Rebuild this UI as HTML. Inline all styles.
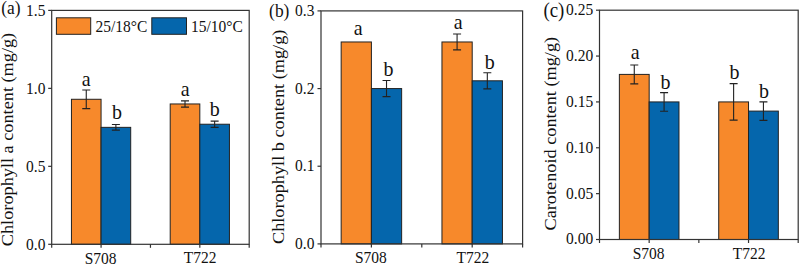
<!DOCTYPE html>
<html><head><meta charset="utf-8"><style>
html,body{margin:0;padding:0;background:#fff;}
body{width:800px;height:265px;overflow:hidden;}
svg{display:block;}
text{font-family:"Liberation Serif",serif;fill:#111;}
</style></head><body>
<svg width="800" height="265" viewBox="0 0 800 265">
<rect x="71.45" y="99.28" width="29.62" height="145.02" fill="#F7892B" stroke="#222" stroke-width="1"/>
<rect x="101.08" y="127.35" width="29.62" height="116.95" fill="#0566AC" stroke="#222" stroke-width="1"/>
<rect x="170.20" y="103.96" width="29.62" height="140.34" fill="#F7892B" stroke="#222" stroke-width="1"/>
<rect x="199.82" y="124.23" width="29.62" height="120.07" fill="#0566AC" stroke="#222" stroke-width="1"/>
<path d="M86.26 89.93V108.64M82.26 89.93H90.26M82.26 108.64H90.26" stroke="#222" stroke-width="1.1" fill="none"/>
<text transform="translate(86.26,86.13) scale(1,1.1)" font-size="20" text-anchor="middle">a</text>
<path d="M115.89 124.54V130.16M111.89 124.54H119.89M111.89 130.16H119.89" stroke="#222" stroke-width="1.1" fill="none"/>
<text transform="translate(117.09,119.14) scale(1,1.1)" font-size="20" text-anchor="middle">b</text>
<path d="M185.01 100.84V107.08M181.01 100.84H189.01M181.01 107.08H189.01" stroke="#222" stroke-width="1.1" fill="none"/>
<text transform="translate(185.21,96.04) scale(1,1.1)" font-size="20" text-anchor="middle">a</text>
<path d="M214.64 121.11V127.35M210.64 121.11H218.64M210.64 127.35H218.64" stroke="#222" stroke-width="1.1" fill="none"/>
<text transform="translate(214.84,116.31) scale(1,1.1)" font-size="20" text-anchor="middle">b</text>
<rect x="51.7" y="10.4" width="197.50" height="233.90" fill="none" stroke="#333" stroke-width="1.2"/>
<path d="M48.20 244.30H51.7" stroke="#333" stroke-width="1.2"/>
<text transform="translate(45.44,249.56) scale(1,1.1)" font-size="15.5" text-anchor="end">0.0</text>
<path d="M48.20 166.33H51.7" stroke="#333" stroke-width="1.2"/>
<text transform="translate(45.44,171.59) scale(1,1.1)" font-size="15.5" text-anchor="end">0.5</text>
<path d="M48.20 88.37H51.7" stroke="#333" stroke-width="1.2"/>
<text transform="translate(45.44,93.63) scale(1,1.1)" font-size="15.5" text-anchor="end">1.0</text>
<path d="M48.20 10.40H51.7" stroke="#333" stroke-width="1.2"/>
<text transform="translate(45.44,15.66) scale(1,1.1)" font-size="15.5" text-anchor="end">1.5</text>
<path d="M51.70 244.3V247.80" stroke="#333" stroke-width="1.2"/>
<path d="M101.08 244.3V247.80" stroke="#333" stroke-width="1.2"/>
<path d="M150.45 244.3V247.80" stroke="#333" stroke-width="1.2"/>
<path d="M199.82 244.3V247.80" stroke="#333" stroke-width="1.2"/>
<path d="M249.20 244.3V247.80" stroke="#333" stroke-width="1.2"/>
<text transform="translate(100.58,263.80) scale(1,1.1)" font-size="15.5" text-anchor="middle">S708</text>
<text transform="translate(200.22,263.30) scale(1,1.1)" font-size="15.5" text-anchor="middle">T722</text>
<text transform="translate(12.60,139.50) scale(1,1.1) rotate(-90)" font-size="16.6" text-anchor="middle">Chlorophyll a content (mg/g)</text>
<text transform="translate(1.30,14.30) scale(1,1.1)" font-size="17.4" text-anchor="start">(a)</text>
<rect x="56.4" y="17.8" width="34.3" height="16.5" fill="#F7892B" stroke="#222" stroke-width="1"/>
<text transform="translate(95.50,31.70) scale(1,1.1)" font-size="15.5" text-anchor="start">25/18°C</text>
<rect x="151.8" y="17.8" width="34.7" height="16.5" fill="#0566AC" stroke="#222" stroke-width="1"/>
<text transform="translate(191.00,31.70) scale(1,1.1)" font-size="15.5" text-anchor="start">15/10°C</text>
<rect x="341.16" y="41.97" width="30.24" height="201.93" fill="#F7892B" stroke="#222" stroke-width="1"/>
<rect x="371.40" y="88.57" width="30.24" height="155.33" fill="#0566AC" stroke="#222" stroke-width="1"/>
<rect x="441.96" y="41.97" width="30.24" height="201.93" fill="#F7892B" stroke="#222" stroke-width="1"/>
<rect x="472.20" y="80.80" width="30.24" height="163.10" fill="#0566AC" stroke="#222" stroke-width="1"/>
<text transform="translate(358.08,35.37) scale(1,1.1)" font-size="20" text-anchor="middle">a</text>
<path d="M386.52 80.49V96.64M382.52 80.49H390.52M382.52 96.64H390.52" stroke="#222" stroke-width="1.1" fill="none"/>
<text transform="translate(388.52,76.49) scale(1,1.1)" font-size="20" text-anchor="middle">b</text>
<path d="M457.08 34.04V49.89M453.08 34.04H461.08M453.08 49.89H461.08" stroke="#222" stroke-width="1.1" fill="none"/>
<text transform="translate(458.28,29.04) scale(1,1.1)" font-size="20" text-anchor="middle">a</text>
<path d="M487.32 72.72V88.88M483.32 72.72H491.32M483.32 88.88H491.32" stroke="#222" stroke-width="1.1" fill="none"/>
<text transform="translate(489.82,69.12) scale(1,1.1)" font-size="20" text-anchor="middle">b</text>
<rect x="321.0" y="10.9" width="201.60" height="233.00" fill="none" stroke="#333" stroke-width="1.2"/>
<path d="M317.50 243.90H321.0" stroke="#333" stroke-width="1.2"/>
<text transform="translate(314.40,248.90) scale(1,1.1)" font-size="15.5" text-anchor="end">0.0</text>
<path d="M317.50 166.23H321.0" stroke="#333" stroke-width="1.2"/>
<text transform="translate(314.40,171.23) scale(1,1.1)" font-size="15.5" text-anchor="end">0.1</text>
<path d="M317.50 88.57H321.0" stroke="#333" stroke-width="1.2"/>
<text transform="translate(314.40,93.57) scale(1,1.1)" font-size="15.5" text-anchor="end">0.2</text>
<path d="M317.50 10.90H321.0" stroke="#333" stroke-width="1.2"/>
<text transform="translate(314.40,15.90) scale(1,1.1)" font-size="15.5" text-anchor="end">0.3</text>
<path d="M321.00 243.9V247.40" stroke="#333" stroke-width="1.2"/>
<path d="M371.40 243.9V247.40" stroke="#333" stroke-width="1.2"/>
<path d="M421.80 243.9V247.40" stroke="#333" stroke-width="1.2"/>
<path d="M472.20 243.9V247.40" stroke="#333" stroke-width="1.2"/>
<path d="M522.60 243.9V247.40" stroke="#333" stroke-width="1.2"/>
<text transform="translate(370.80,262.80) scale(1,1.1)" font-size="15.5" text-anchor="middle">S708</text>
<text transform="translate(472.80,262.90) scale(1,1.1)" font-size="15.5" text-anchor="middle">T722</text>
<text transform="translate(284.30,136.80) scale(1,1.1) rotate(-90)" font-size="16.6" text-anchor="middle">Chlorophyll b content (mg/g)</text>
<text transform="translate(269.10,17.40) scale(1,1.1)" font-size="17.4" text-anchor="start">(b)</text>
<rect x="619.37" y="74.40" width="29.80" height="165.10" fill="#F7892B" stroke="#222" stroke-width="1"/>
<rect x="649.17" y="101.92" width="29.81" height="137.58" fill="#0566AC" stroke="#222" stroke-width="1"/>
<rect x="718.72" y="101.92" width="29.81" height="137.58" fill="#F7892B" stroke="#222" stroke-width="1"/>
<rect x="748.53" y="111.09" width="29.80" height="128.41" fill="#0566AC" stroke="#222" stroke-width="1"/>
<path d="M634.27 64.96V83.85M630.27 64.96H638.27M630.27 83.85H638.27" stroke="#222" stroke-width="1.1" fill="none"/>
<text transform="translate(635.07,59.16) scale(1,1.1)" font-size="20" text-anchor="middle">a</text>
<path d="M664.08 92.66V111.18M660.08 92.66H668.08M660.08 111.18H668.08" stroke="#222" stroke-width="1.1" fill="none"/>
<text transform="translate(665.58,88.86) scale(1,1.1)" font-size="20" text-anchor="middle">b</text>
<path d="M733.62 83.67V120.17M729.62 83.67H737.62M729.62 120.17H737.62" stroke="#222" stroke-width="1.1" fill="none"/>
<text transform="translate(734.52,79.07) scale(1,1.1)" font-size="20" text-anchor="middle">b</text>
<path d="M763.43 101.83V120.36M759.43 101.83H767.43M759.43 120.36H767.43" stroke="#222" stroke-width="1.1" fill="none"/>
<text transform="translate(763.93,97.63) scale(1,1.1)" font-size="20" text-anchor="middle">b</text>
<rect x="599.5" y="10.2" width="198.70" height="229.30" fill="none" stroke="#333" stroke-width="1.2"/>
<path d="M596.00 239.50H599.5" stroke="#333" stroke-width="1.2"/>
<text transform="translate(593.20,244.37) scale(1,1.1)" font-size="15.5" text-anchor="end">0.00</text>
<path d="M596.00 193.64H599.5" stroke="#333" stroke-width="1.2"/>
<text transform="translate(593.20,198.51) scale(1,1.1)" font-size="15.5" text-anchor="end">0.05</text>
<path d="M596.00 147.78H599.5" stroke="#333" stroke-width="1.2"/>
<text transform="translate(593.20,152.65) scale(1,1.1)" font-size="15.5" text-anchor="end">0.10</text>
<path d="M596.00 101.92H599.5" stroke="#333" stroke-width="1.2"/>
<text transform="translate(593.20,106.79) scale(1,1.1)" font-size="15.5" text-anchor="end">0.15</text>
<path d="M596.00 56.06H599.5" stroke="#333" stroke-width="1.2"/>
<text transform="translate(593.20,60.93) scale(1,1.1)" font-size="15.5" text-anchor="end">0.20</text>
<path d="M596.00 10.20H599.5" stroke="#333" stroke-width="1.2"/>
<text transform="translate(593.20,15.07) scale(1,1.1)" font-size="15.5" text-anchor="end">0.25</text>
<path d="M599.50 239.5V243.00" stroke="#333" stroke-width="1.2"/>
<path d="M649.17 239.5V243.00" stroke="#333" stroke-width="1.2"/>
<path d="M698.85 239.5V243.00" stroke="#333" stroke-width="1.2"/>
<path d="M748.53 239.5V243.00" stroke="#333" stroke-width="1.2"/>
<path d="M798.20 239.5V243.00" stroke="#333" stroke-width="1.2"/>
<text transform="translate(648.67,259.00) scale(1,1.1)" font-size="15.5" text-anchor="middle">S708</text>
<text transform="translate(749.03,258.70) scale(1,1.1)" font-size="15.5" text-anchor="middle">T722</text>
<text transform="translate(556.40,133.70) scale(1,1.1) rotate(-90)" font-size="16.6" text-anchor="middle">Carotenoid content (mg/g)</text>
<text transform="translate(543.50,16.90) scale(1,1.1)" font-size="18.8" text-anchor="start">(c)</text>
</svg>
</body></html>
